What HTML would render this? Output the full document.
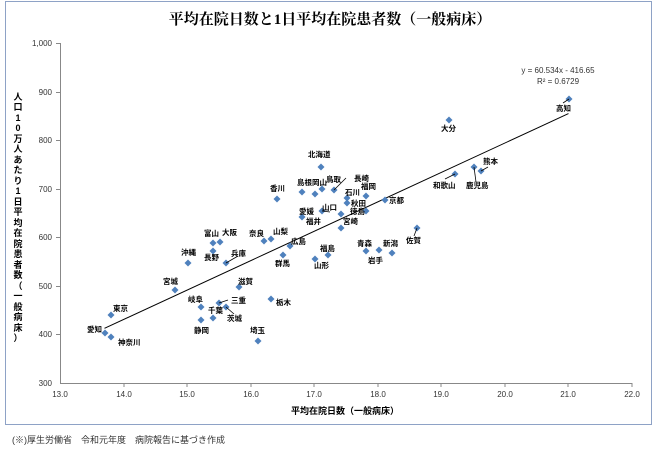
<!DOCTYPE html>
<html><head><meta charset="utf-8"><style>
body{margin:0;background:#fff;}
svg text{font-family:"Liberation Sans","Noto Sans CJK JP",sans-serif;}
</style></head><body>
<svg width="662" height="453" viewBox="0 0 662 453" xmlns="http://www.w3.org/2000/svg">
<rect x="5.5" y="1.5" width="646" height="423" fill="#fff" stroke="#8ea2c6" stroke-width="1"/>
<text x="330" y="24" font-size="15" text-anchor="middle" font-weight="bold" fill="#000" style="font-family:'Liberation Serif','Noto Serif CJK SC',serif">平均在院日数と1日平均在院患者数（一般病床）</text>
<g stroke="#888" stroke-width="1">
<line x1="60.5" y1="43" x2="60.5" y2="383"/>
<line x1="60" y1="383.5" x2="632" y2="383.5"/>
<line x1="56" y1="43.5" x2="60" y2="43.5"/><line x1="56" y1="92.5" x2="60" y2="92.5"/><line x1="56" y1="140.5" x2="60" y2="140.5"/><line x1="56" y1="189.5" x2="60" y2="189.5"/><line x1="56" y1="237.5" x2="60" y2="237.5"/><line x1="56" y1="286.5" x2="60" y2="286.5"/><line x1="56" y1="334.5" x2="60" y2="334.5"/>
<line x1="124" y1="383" x2="124" y2="387"/><line x1="187" y1="383" x2="187" y2="387"/><line x1="251" y1="383" x2="251" y2="387"/><line x1="314" y1="383" x2="314" y2="387"/><line x1="378" y1="383" x2="378" y2="387"/><line x1="441" y1="383" x2="441" y2="387"/><line x1="505" y1="383" x2="505" y2="387"/><line x1="568" y1="383" x2="568" y2="387"/><line x1="632" y1="383" x2="632" y2="387"/>
</g>
<g font-size="8" fill="#333" text-anchor="end">
<text x="52" y="46">1,000</text><text x="52" y="95">900</text><text x="52" y="143">800</text><text x="52" y="192">700</text><text x="52" y="240">600</text><text x="52" y="289">500</text><text x="52" y="337">400</text><text x="52" y="386">300</text>
</g>
<g font-size="8" fill="#333" text-anchor="middle">
<text x="60" y="397">13.0</text><text x="124" y="397">14.0</text><text x="187" y="397">15.0</text><text x="251" y="397">16.0</text><text x="314" y="397">17.0</text><text x="378" y="397">18.0</text><text x="441" y="397">19.0</text><text x="505" y="397">20.0</text><text x="568" y="397">21.0</text><text x="632" y="397">22.0</text>
</g>
<text x="345" y="414" font-size="9" font-weight="bold" text-anchor="middle">平均在院日数（一般病床）</text>
<g font-size="9" font-weight="bold" text-anchor="middle">
<text x="18" y="100">人</text><text x="18" y="110">口</text><text x="18" y="121">1</text><text x="18" y="131">0</text><text x="18" y="142">万</text><text x="18" y="152">人</text><text x="18" y="163">あ</text><text x="18" y="173">た</text><text x="18" y="184">り</text><text x="18" y="194">1</text><text x="18" y="205">日</text><text x="18" y="215">平</text><text x="18" y="226">均</text><text x="18" y="236">在</text><text x="18" y="247">院</text><text x="18" y="257">患</text><text x="18" y="268">者</text><text x="18" y="278">数</text><text x="18" y="289">（</text><text x="18" y="299">一</text><text x="18" y="310">般</text><text x="18" y="320">病</text><text x="18" y="331">床</text><text x="18" y="341">）</text>
</g>
<text x="12" y="443" font-size="9" fill="#333">(※)厚生労働省　令和元年度　病院報告に基づき作成</text>
<line x1="104.5" y1="328.3" x2="568.5" y2="113.6" stroke="#000" stroke-width="1"/>
<text x="558" y="73" font-size="8" fill="#333" text-anchor="middle">y = 60.534x - 416.65</text>
<text x="558" y="84" font-size="8" fill="#333" text-anchor="middle">R² = 0.6729</text>
<g fill="#4f81bd">
<path id="d" d="M0,-3.5L3.5,0L0,3.5L-3.5,0Z" transform="translate(111,315)"/>
<path d="M0,-3.5L3.5,0L0,3.5L-3.5,0Z" transform="translate(105,333)"/>
<path d="M0,-3.5L3.5,0L0,3.5L-3.5,0Z" transform="translate(111,337)"/>
<path d="M0,-3.5L3.5,0L0,3.5L-3.5,0Z" transform="translate(175,290)"/>
<path d="M0,-3.5L3.5,0L0,3.5L-3.5,0Z" transform="translate(188,263)"/>
<path d="M0,-3.5L3.5,0L0,3.5L-3.5,0Z" transform="translate(213,243)"/>
<path d="M0,-3.5L3.5,0L0,3.5L-3.5,0Z" transform="translate(220,242)"/>
<path d="M0,-3.5L3.5,0L0,3.5L-3.5,0Z" transform="translate(213,251)"/>
<path d="M0,-3.5L3.5,0L0,3.5L-3.5,0Z" transform="translate(226,263)"/>
<path d="M0,-3.5L3.5,0L0,3.5L-3.5,0Z" transform="translate(264,241)"/>
<path d="M0,-3.5L3.5,0L0,3.5L-3.5,0Z" transform="translate(271,239)"/>
<path d="M0,-3.5L3.5,0L0,3.5L-3.5,0Z" transform="translate(290,246)"/>
<path d="M0,-3.5L3.5,0L0,3.5L-3.5,0Z" transform="translate(283,255)"/>
<path d="M0,-3.5L3.5,0L0,3.5L-3.5,0Z" transform="translate(239,287)"/>
<path d="M0,-3.5L3.5,0L0,3.5L-3.5,0Z" transform="translate(201,307)"/>
<path d="M0,-3.5L3.5,0L0,3.5L-3.5,0Z" transform="translate(219,303)"/>
<path d="M0,-3.5L3.5,0L0,3.5L-3.5,0Z" transform="translate(226,307)"/>
<path d="M0,-3.5L3.5,0L0,3.5L-3.5,0Z" transform="translate(213,318)"/>
<path d="M0,-3.5L3.5,0L0,3.5L-3.5,0Z" transform="translate(201,320)"/>
<path d="M0,-3.5L3.5,0L0,3.5L-3.5,0Z" transform="translate(271,299)"/>
<path d="M0,-3.5L3.5,0L0,3.5L-3.5,0Z" transform="translate(258,341)"/>
<path d="M0,-3.5L3.5,0L0,3.5L-3.5,0Z" transform="translate(321,167)"/>
<path d="M0,-3.5L3.5,0L0,3.5L-3.5,0Z" transform="translate(277,199)"/>
<path d="M0,-3.5L3.5,0L0,3.5L-3.5,0Z" transform="translate(302,192)"/>
<path d="M0,-3.5L3.5,0L0,3.5L-3.5,0Z" transform="translate(315,194)"/>
<path d="M0,-3.5L3.5,0L0,3.5L-3.5,0Z" transform="translate(322,189)"/>
<path d="M0,-3.5L3.5,0L0,3.5L-3.5,0Z" transform="translate(334,190)"/>
<path d="M0,-3.5L3.5,0L0,3.5L-3.5,0Z" transform="translate(347,198)"/>
<path d="M0,-3.5L3.5,0L0,3.5L-3.5,0Z" transform="translate(347,203)"/>
<path d="M0,-3.5L3.5,0L0,3.5L-3.5,0Z" transform="translate(366,196)"/>
<path d="M0,-3.5L3.5,0L0,3.5L-3.5,0Z" transform="translate(341,214)"/>
<path d="M0,-3.5L3.5,0L0,3.5L-3.5,0Z" transform="translate(322,211)"/>
<path d="M0,-3.5L3.5,0L0,3.5L-3.5,0Z" transform="translate(302,217)"/>
<path d="M0,-3.5L3.5,0L0,3.5L-3.5,0Z" transform="translate(366,211)"/>
<path d="M0,-3.5L3.5,0L0,3.5L-3.5,0Z" transform="translate(385,200)"/>
<path d="M0,-3.5L3.5,0L0,3.5L-3.5,0Z" transform="translate(341,228)"/>
<path d="M0,-3.5L3.5,0L0,3.5L-3.5,0Z" transform="translate(328,255)"/>
<path d="M0,-3.5L3.5,0L0,3.5L-3.5,0Z" transform="translate(315,259)"/>
<path d="M0,-3.5L3.5,0L0,3.5L-3.5,0Z" transform="translate(366,251)"/>
<path d="M0,-3.5L3.5,0L0,3.5L-3.5,0Z" transform="translate(379,250)"/>
<path d="M0,-3.5L3.5,0L0,3.5L-3.5,0Z" transform="translate(392,253)"/>
<path d="M0,-3.5L3.5,0L0,3.5L-3.5,0Z" transform="translate(417,228)"/>
<path d="M0,-3.5L3.5,0L0,3.5L-3.5,0Z" transform="translate(569,99)"/>
<path d="M0,-3.5L3.5,0L0,3.5L-3.5,0Z" transform="translate(449,120)"/>
<path d="M0,-3.5L3.5,0L0,3.5L-3.5,0Z" transform="translate(455,174)"/>
<path d="M0,-3.5L3.5,0L0,3.5L-3.5,0Z" transform="translate(474,167)"/>
<path d="M0,-3.5L3.5,0L0,3.5L-3.5,0Z" transform="translate(481,171)"/>
</g>
<g stroke="#000" stroke-width="0.8">
<line x1="226" y1="263" x2="238" y2="256"/><line x1="219" y1="303" x2="228" y2="300"/><line x1="226" y1="307" x2="234" y2="314"/>
<line x1="334" y1="190" x2="346" y2="178"/><line x1="322" y1="211" x2="330" y2="212"/><line x1="417" y1="228" x2="414" y2="236"/>
<line x1="569" y1="99" x2="563" y2="103"/><line x1="455" y1="174" x2="445" y2="179"/><line x1="474" y1="167" x2="476" y2="182"/><line x1="481" y1="171" x2="488" y2="167"/>
</g>
<g font-size="7.5" font-weight="bold" fill="#000">
<text x="113" y="311">東京</text><text x="87" y="332">愛知</text><text x="118" y="345">神奈川</text><text x="163" y="284">宮城</text>
<text x="181" y="255">沖縄</text><text x="204" y="236">富山</text><text x="222" y="235">大阪</text><text x="204" y="260">長野</text><text x="231" y="256">兵庫</text>
<text x="249" y="236">奈良</text><text x="273" y="234">山梨</text><text x="291" y="244">広島</text><text x="275" y="266">群馬</text>
<text x="238" y="284">滋賀</text><text x="188" y="302">岐阜</text><text x="231" y="303">三重</text><text x="227" y="321">茨城</text><text x="208" y="313">千葉</text><text x="194" y="333">静岡</text>
<text x="276" y="305">栃木</text><text x="250" y="333">埼玉</text>
<text x="308" y="157">北海道</text><text x="270" y="191">香川</text><text x="297" y="185">島根岡山</text><text x="326" y="182">鳥取</text><text x="354" y="181">長崎</text>
<text x="345" y="195">石川</text><text x="351" y="206">秋田</text><text x="361" y="189">福岡</text><text x="322" y="210">山口</text><text x="299" y="214">愛媛</text><text x="306" y="224">福井</text>
<text x="350" y="214">徳島</text><text x="389" y="203">京都</text><text x="343" y="224">宮崎</text>
<text x="320" y="251">福島</text><text x="314" y="268">山形</text><text x="357" y="246">青森</text><text x="383" y="246">新潟</text><text x="368" y="263">岩手</text><text x="406" y="243">佐賀</text>
<text x="556" y="111">高知</text><text x="441" y="131">大分</text><text x="433" y="188">和歌山</text><text x="466" y="188">鹿児島</text><text x="483" y="164">熊本</text>
</g>
</svg>
</body></html>
